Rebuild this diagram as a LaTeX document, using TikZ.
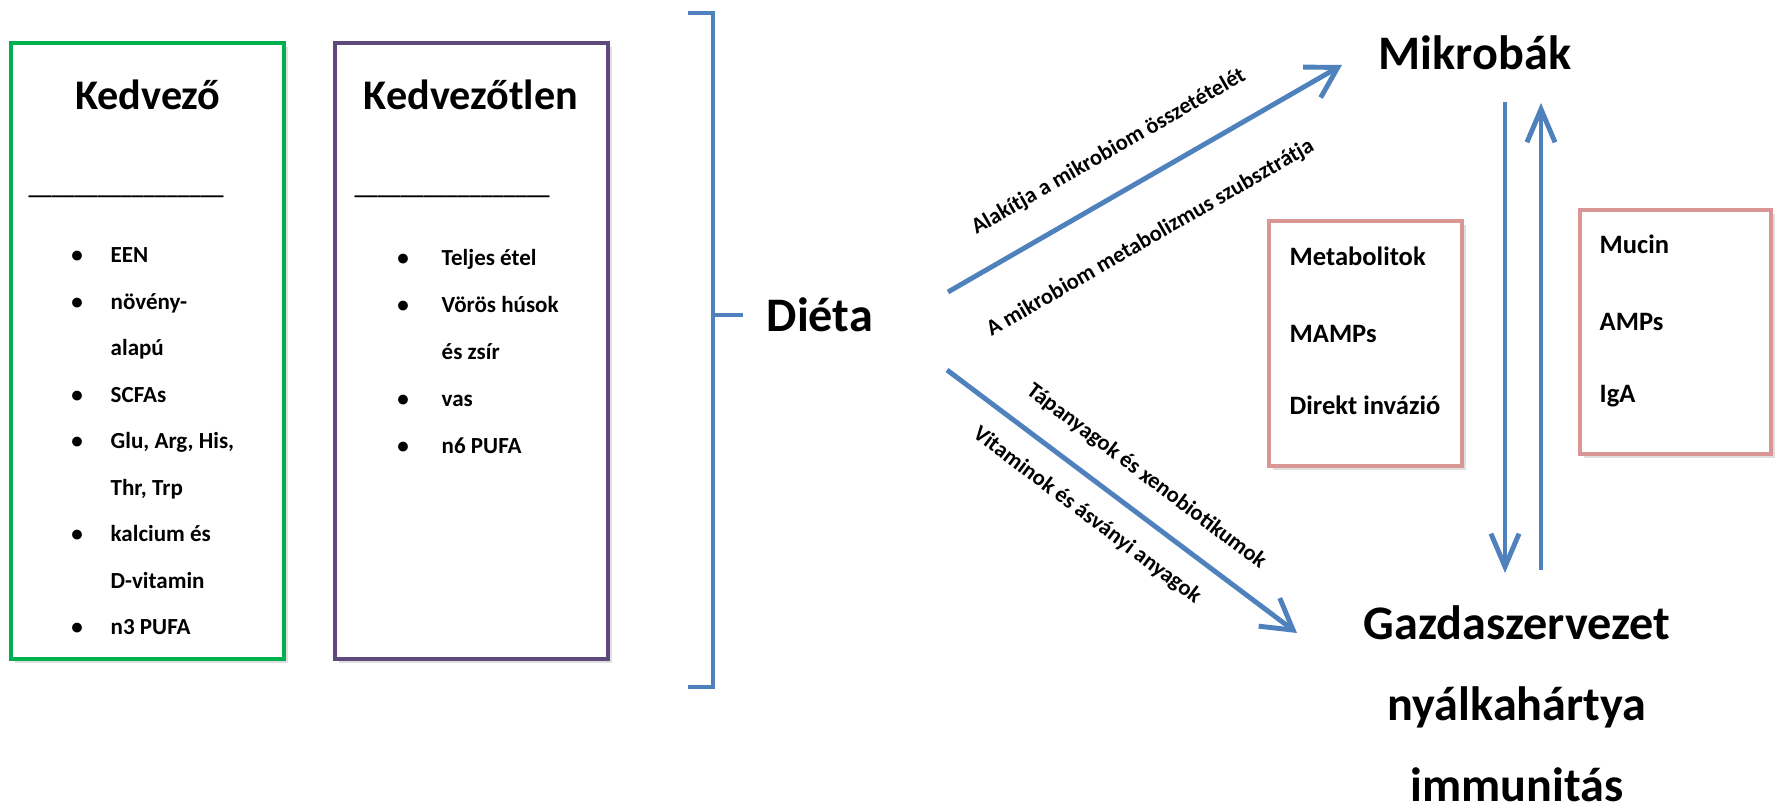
\documentclass[tikz,border=0pt]{standalone}
\usepackage{fontspec}
\setmainfont{Carlito}
\usetikzlibrary{arrows.meta,shadows}

\definecolor{kek}{HTML}{4F81BD}
\definecolor{zold}{RGB}{0,176,80}
\definecolor{lila}{HTML}{5F497A}
\definecolor{rozsa}{HTML}{D99694}

\begin{document}
\begin{tikzpicture}[x=0.01cm, y=-0.01cm,
    nagy/.style={font=\bfseries\fontsize{13.7}{16}\selectfont, inner sep=0pt, anchor=base},
    cim/.style={font=\bfseries\fontsize{12}{14}\selectfont, inner sep=0pt, anchor=base},
    elem/.style={font=\bfseries\fontsize{6.55}{8}\selectfont, inner sep=0pt, anchor=base west},
    pont/.style={font=\bfseries\fontsize{6.55}{8}\selectfont, inner sep=0pt, anchor=base},
    doboztxt/.style={font=\bfseries\fontsize{7.55}{9}\selectfont, inner sep=0pt, anchor=base west},
    felirat/.style={font=\bfseries\fontsize{6.4}{8}\selectfont, text=black, inner sep=0pt, sloped},
    keret/.style={line width=1.2pt, fill=white, drop shadow={shadow xshift=1.2pt, shadow yshift=-1.2pt, opacity=0.25}},
    nyil/.style={kek, line width=1.4pt, -{Straight Barb[length=8.5pt,width=10pt]}},
    fnyil/.style={kek, line width=1.4pt, -{Straight Barb[length=9.4pt,width=8pt]}}]

    \useasboundingbox (0,0) rectangle (1781,810);

    % Kedvező doboz
    \draw[keret, draw=zold] (11,43) rectangle (284,659);
    \node[cim] (kedv) at (148,110) {Kedvező};
    \node[elem] (kedv-vonal) at (28,195) {\_\_\_\_\_\_\_\_\_\_\_\_\_\_\_\_\_};
    \foreach \b/\t [count=\i from 0] in {1/EEN, 1/növény-, 0/alapú, 1/SCFAs, 1/{Glu, Arg, His,}, 0/{Thr, Trp}, 1/kalcium és, 0/D-vitamin, 1/n3 PUFA} {
        \node[elem] (kedv-\i) at (110,{263+46.5*\i}) {\t};
        \ifnum\b=1 \node[pont] (kedv-p\i) at (77,{263+46.5*\i}) {\textbullet}; \fi
    }

    % Kedvezőtlen doboz
    \draw[keret, draw=lila] (335,43) rectangle (608,659);
    \node[cim] (kedvtl) at (471,110) {Kedvezőtlen};
    \node[elem] (kedvtl-vonal) at (354,195) {\_\_\_\_\_\_\_\_\_\_\_\_\_\_\_\_\_};
    \foreach \b/\t [count=\i from 0] in {1/Teljes étel, 1/Vörös húsok, 0/és zsír, 1/vas, 1/n6 PUFA} {
        \node[elem] (kedvtl-\i) at (441,{266+46.8*\i}) {\t};
        \ifnum\b=1 \node[pont] (kedvtl-p\i) at (403,{266+46.8*\i}) {\textbullet}; \fi
    }

    % Zárójel
    \draw[kek, line width=1.4pt] (688,13) -- (713,13) -- (713,687) -- (688,687);
    \draw[kek, line width=1.4pt] (713,315) -- (743,315);

    % Fő csomópontok
    \node[nagy, anchor=base west] (dieta) at (766,332) {Diéta};
    \node[nagy] (mikrobak) at (1475,70) {Mikrobák};
    \node[nagy] (gazda) at (1517,640) {Gazdaszervezet};
    \node[nagy] (nyalka) at (1517,721) {nyálkahártya};
    \node[nagy] (immun) at (1517,802) {immunitás};

    % Nyilak végpontjai
    \coordinate (dieta-fel) at (948,292);
    \coordinate (mikr-be) at (1342,65);
    \coordinate (dieta-le) at (947,370);
    \coordinate (gazda-be) at (1297,633);
    \coordinate (mikr-ki) at (1505,102);
    \coordinate (gazda-ki) at (1541,570);

    % Diéta -> Mikrobák / Gazdaszervezet
    \draw[nyil] (dieta-fel) -- (mikr-be)
        node[felirat, pos=0.46, above=8.2pt] {Alakítja a mikrobiom összetételét}
        node[felirat, pos=0.445, below=12pt] {A mikrobiom metabolizmus szubsztrátja};
    \draw[nyil] (dieta-le) -- (gazda-be)
        node[felirat, pos=0.51, above=6.3pt] {Tápanyagok és xenobiotikumok}
        node[felirat, pos=0.455, below=5.7pt] {Vitaminok és ásványi anyagok};

    % Mikrobák <-> Gazdaszervezet
    \draw[fnyil] (mikr-ki) -- (mikr-ki |- 0,573);
    \draw[fnyil] (gazda-ki) -- (gazda-ki |- 0,103);

    % Kis dobozok
    \draw[keret, draw=rozsa] (1269,221) rectangle (1462,466);
    \node[doboztxt] (metab) at (1289,266) {Metabolitok};
    \node[doboztxt] (mamps) at (1289,343) {MAMPs};
    \node[doboztxt] (invazio) at (1289,415) {Direkt invázió};

    \draw[keret, draw=rozsa] (1580,210) rectangle (1771,454);
    \node[doboztxt] (mucin) at (1599,254) {Mucin};
    \node[doboztxt] (amps) at (1599,331) {AMPs};
    \node[doboztxt] (iga) at (1599,403) {IgA};

\end{tikzpicture}
\end{document}
